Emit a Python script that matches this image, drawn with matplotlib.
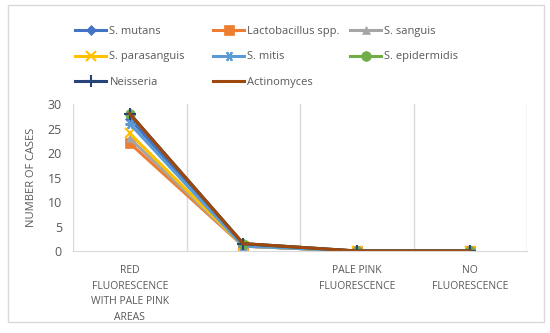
import matplotlib.pyplot as plt
from matplotlib.patches import Rectangle

categories = ["RED\nFLUORESCENCE\nWITH PALE PINK\nAREAS", "", "PALE PINK\nFLUORESCENCE", "NO\nFLUORESCENCE"]
series_names = ["S. mutans", "Lactobacillus spp.", "S. sanguis", "S. parasanguis",
                "S. mitis", "S. epidermidis", "Neisseria", "Actinomyces"]
s_mutans = [27, 1, 0, 0]
lactobacillus = [22, 1, 0, 0]
s_sanguis = [23, 1, 0, 0]
s_parasanguis = [24, 1, 0, 0]
s_mitis = [26, 1, 0, 0]
s_epidermidis = [28, 1.5, 0, 0]
neisseria = [28, 1.5, 0, 0]
actinomyces = [28, 1.5, 0, 0]
yticks = [0, 5, 10, 15, 20, 25, 30]

values = [s_mutans, lactobacillus, s_sanguis, s_parasanguis, s_mitis, s_epidermidis, neisseria, actinomyces]
colors = ["#4472C4", "#ED7D31", "#A5A5A5", "#FFC000", "#5B9BD5", "#70AD47", "#264478", "#9E480E"]
markers = ["D", "s", "^", "x", (6, 2, 90), "o", "+", None]
msizes = [5, 7, 6, 7, 7, 7, 8, 0]

plt.rcParams['font.family'] = ['Open Sans', 'DejaVu Sans']

fig = plt.figure(figsize=(5.5, 3.33), dpi=100)
fig.patches.append(Rectangle((8 / 550, 1 - 322 / 333), 536 / 550, 317 / 333,
                             transform=fig.transFigure, fill=False,
                             edgecolor="#D9D9D9", linewidth=1))
ax = fig.add_axes([73 / 550, 1 - 251 / 333, 454 / 550, 147 / 333])

x = range(len(categories))
handles = []
for name, vals, c, m, ms in zip(series_names, values, colors, markers, msizes):
    h, = ax.plot(x, vals, color=c, linewidth=2.2, marker=m, markersize=ms,
                 markeredgewidth=1.5 if m in ("x", "+") or isinstance(m, tuple) else 0.5,
                 label=name)
    handles.append(h)

ax.set_xlim(-0.5, 3.5)
ax.set_ylim(0, 30)
ax.set_yticks(yticks)
ax.set_xticks(list(x))
ax.set_xticklabels(categories, fontsize=7.5, color="#595959", linespacing=1.6)
ax.tick_params(axis="y", labelsize=9, colors="#595959", length=0, pad=8)
ax.tick_params(axis="x", length=0, pad=10)
for gx in [-0.5, 0.5, 1.5, 2.5, 3.5]:
    ax.axvline(gx, color="#D9D9D9", linewidth=1, zorder=0)
for s in ["left", "right", "top"]:
    ax.spines[s].set_visible(False)
ax.spines["bottom"].set_color("#D9D9D9")
ax.set_ylabel("NUMBER OF CASES", fontsize=8, color="#595959", labelpad=8)

# three legend columns of equal width, filled row by row like the original
columns = [[0, 3, 6], [1, 4, 7], [2, 5]]
col_x = [65, 203, 340]
for idx, cx in zip(columns, col_x):
    fig.legend([handles[i] for i in idx], [series_names[i] for i in idx],
               loc="upper left", bbox_to_anchor=(cx / 550, 1 - 16 / 333),
               frameon=False, fontsize=8, handlelength=2.8, handletextpad=0.3,
               labelspacing=1.3, labelcolor="#595959")

fig.savefig("out.png", dpi=100)
